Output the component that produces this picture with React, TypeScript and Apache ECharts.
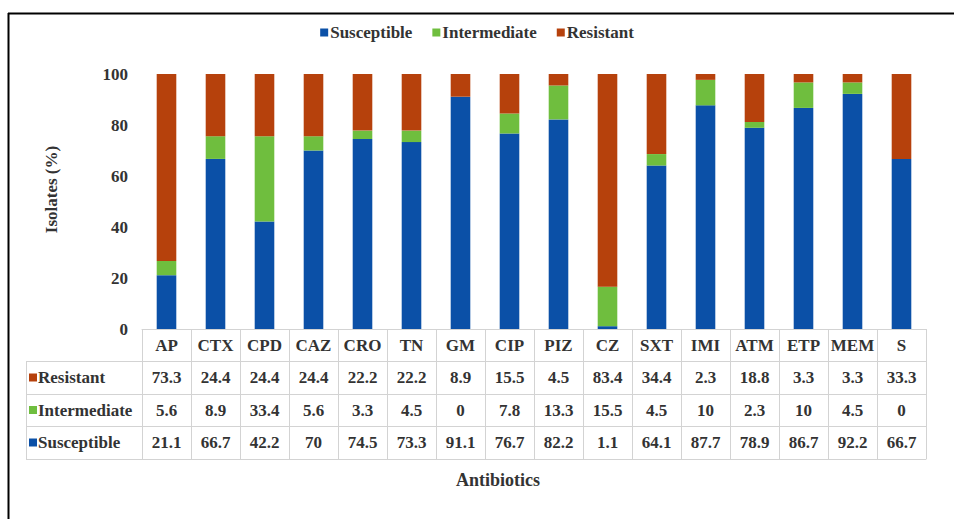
import React, { useEffect, useRef } from "react";
import * as echarts from "echarts";

const categories = ["AP", "CTX", "CPD", "CAZ", "CRO", "TN", "GM", "CIP", "PIZ", "CZ", "SXT", "IMI", "ATM", "ETP", "MEM", "S"];
const resistant = [73.3, 24.4, 24.4, 24.4, 22.2, 22.2, 8.9, 15.5, 4.5, 83.4, 34.4, 2.3, 18.8, 3.3, 3.3, 33.3];
const intermediate = [5.6, 8.9, 33.4, 5.6, 3.3, 4.5, 0, 7.8, 13.3, 15.5, 4.5, 10, 2.3, 10, 4.5, 0];
const susceptible = [21.1, 66.7, 42.2, 70, 74.5, 73.3, 91.1, 76.7, 82.2, 1.1, 64.1, 87.7, 78.9, 86.7, 92.2, 66.7];
const yTicks = [0, 20, 40, 60, 80, 100];

const COLORS = { Susceptible: "#0b50a7", Intermediate: "#6fbe3e", Resistant: "#b6410c" };
const FONT = "'Liberation Serif', 'Times New Roman', serif";
const TEXT = "#333333";
const LINE = "#d3d3d3";

const W = 954;
const H = 519;
const GRID_LEFT = 142;
const GRID_RIGHT_X = 926;
const GRID_TOP = 74;
const AXIS_Y = 329;
const ROW_OFFSETS = [0, 32, 65, 97, 130];
const TABLE_LEFT = 26;

export default function App() {
  const ref = useRef<HTMLDivElement>(null);
  useEffect(() => {
    if (!ref.current) return;
    const chart = echarts.init(ref.current, null, { renderer: "svg" });
    const rows = [
      { name: "Resistant", values: resistant },
      { name: "Intermediate", values: intermediate },
      { name: "Susceptible", values: susceptible },
    ];
    const baseX = {
      type: "category" as const,
      data: categories,
      position: "bottom" as const,
      gridIndex: 0,
      axisLine: { show: true, lineStyle: { color: LINE, width: 1 } },
      axisTick: { show: false },
      splitLine: { show: false },
    };
    const xAxes: any[] = [
      {
        ...baseX,
        offset: 0,
        axisTick: { show: true, interval: 0, length: ROW_OFFSETS[4], lineStyle: { color: LINE, width: 1 } },
        axisLabel: { interval: 0, margin: 8, color: TEXT, fontFamily: FONT, fontWeight: "bold", fontSize: 17 },
      },
      ...rows.map((r, i) => ({
        ...baseX,
        offset: ROW_OFFSETS[i + 1],
        axisLabel: {
          interval: 0,
          margin: 8,
          color: TEXT,
          fontFamily: FONT,
          fontWeight: "bold",
          fontSize: 17,
          formatter: (_v: string, idx: number) => String(r.values[idx]),
        },
      })),
      { ...baseX, offset: ROW_OFFSETS[4], axisLabel: { show: false } },
    ];

    const graphics: any[] = [
      { type: "line", shape: { x1: 8, y1: 13.5, x2: W, y2: 13.5 }, style: { stroke: "#000", lineWidth: 2 } },
      { type: "line", shape: { x1: 8.5, y1: 13, x2: 8.5, y2: H }, style: { stroke: "#000", lineWidth: 2 } },
      {
        type: "line",
        shape: { x1: TABLE_LEFT + 0.5, y1: AXIS_Y + ROW_OFFSETS[1], x2: TABLE_LEFT + 0.5, y2: AXIS_Y + ROW_OFFSETS[4] },
        style: { stroke: LINE, lineWidth: 1 },
      },
      ...ROW_OFFSETS.slice(1).map((o) => ({
        type: "line",
        shape: { x1: TABLE_LEFT, y1: AXIS_Y + o + 0.5, x2: GRID_LEFT, y2: AXIS_Y + o + 0.5 },
        style: { stroke: LINE, lineWidth: 1 },
      })),
      ...rows.map((r, i) => {
        const cy = AXIS_Y + (ROW_OFFSETS[i + 1] + ROW_OFFSETS[i + 2]) / 2;
        return {
          type: "group",
          children: [
            { type: "rect", shape: { x: 29, y: cy - 4, width: 8, height: 8 }, style: { fill: (COLORS as any)[r.name] } },
            {
              type: "text",
              x: 38,
              y: cy,
              style: {
                text: r.name,
                fill: TEXT,
                font: `bold 17px ${FONT}`,
                verticalAlign: "middle",
                align: "left",
              },
            },
          ],
        };
      }),
      {
        type: "text",
        x: 498,
        y: 480,
        style: { text: "Antibiotics", fill: TEXT, font: `bold 18px ${FONT}`, align: "center", verticalAlign: "middle" },
      },
    ];

    const barSeries = (name: string, data: number[]) => ({
      name,
      type: "bar",
      stack: "total",
      xAxisIndex: 0,
      barWidth: "40%",
      data,
      itemStyle: { color: (COLORS as any)[name] },
    });

    chart.setOption({
      animation: false,
      backgroundColor: "#ffffff",
      legend: {
        top: 19,
        left: "center",
        icon: "rect",
        itemWidth: 8,
        itemHeight: 8,
        itemGap: 20,
        data: ["Susceptible", "Intermediate", "Resistant"],
        textStyle: { color: TEXT, fontFamily: FONT, fontWeight: "bold", fontSize: 17, padding: [0, 0, 0, -3] },
      },
      grid: { left: GRID_LEFT, right: W - GRID_RIGHT_X, top: GRID_TOP, bottom: H - AXIS_Y, containLabel: false },
      xAxis: xAxes,
      yAxis: {
        type: "value",
        min: yTicks[0],
        max: yTicks[yTicks.length - 1],
        interval: yTicks[1] - yTicks[0],
        name: "Isolates (%)",
        nameLocation: "middle",
        nameGap: 82,
        nameTextStyle: { color: TEXT, fontFamily: FONT, fontWeight: "bold", fontSize: 17, padding: [0, 0, 0, 24] },
        axisLine: { show: false },
        axisTick: { show: false },
        splitLine: { show: false },
        axisLabel: { margin: 14, color: TEXT, fontFamily: FONT, fontWeight: "bold", fontSize: 17 },
      },
      series: [
        barSeries("Susceptible", susceptible),
        barSeries("Intermediate", intermediate),
        barSeries("Resistant", resistant),
      ],
      graphic: graphics,
    });
    return () => chart.dispose();
  }, []);
  return <div ref={ref} style={{ position: "fixed", left: 0, top: 0, width: W, height: H }} />;
}
